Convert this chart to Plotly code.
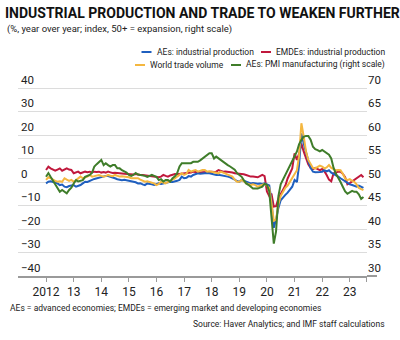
import pandas as pd
import plotly.graph_objects as go

months = pd.date_range("2012-01-01", periods=139, freq="MS")

ae_ip = [
    -0.6, 0.1, 0.3, 0.1, -0.3, -0.6, -1.3, -1.1, -2.0, -2.2, -1.7, -1.5,
    -1.3, -2.0, -1.8, -1.3, -0.6, 0.1, 0.0, 0.3, 0.9, 1.3, 1.6, 1.6,
    2.0, 2.3, 2.6, 2.5, 2.3, 1.8, 1.6, 1.2, 0.9, 0.8, 1.0, 0.8,
    0.3, 0.1, 0.2, -0.1, -0.6, -0.5, -1.0, -1.3, -0.6, -0.7, -1.0, -1.3,
    -1.0, -0.6, -0.8, -0.6, -0.3, 0.0, 0.1, 0.0, 0.1, 0.5, 0.9, 2.3,
    1.6, 1.8, 2.5, 2.3, 3.0, 3.4, 3.7, 3.5, 3.7, 3.6, 3.8, 3.7,
    3.4, 3.2, 3.0, 3.1, 2.9, 3.0, 2.5, 2.3, 2.0, 1.6, 1.0, 0.4,
    0.1, 0.9, 0.5, 0.1, -0.2, -0.6, -0.4, -0.6, -0.7, -0.6, -0.8, -0.6,
    -1.0, -1.5, -8.0, -19.5, -16.0, -11.0, -7.8, -6.5, -5.5, -4.5, -3.0, -2.0,
    0.9, 0.0, 7.0, 20.7, 16.5, 12.0, 9.0, 6.0, 4.4, 4.2, 4.4, 4.3,
    4.4, 5.0, 4.5, 5.0, 4.0, 3.5, 3.0, 2.3, 1.6, 1.0, 0.1, -0.5,
    -1.0, -1.3, -1.5, -2.0, -1.5, -2.0, -2.5,
]

emde_ip = [
    5.1, 6.5, 5.8, 5.2, 4.8, 5.3, 5.8, 4.8, 5.2, 5.8, 5.3, 5.1,
    3.7, 4.0, 4.4, 3.7, 3.9, 4.4, 4.2, 4.4, 4.1, 4.4, 4.3, 4.4,
    4.0, 4.2, 4.0, 4.4, 4.1, 3.8, 3.9, 3.7, 3.8, 3.6, 3.5, 3.4,
    3.4, 3.3, 3.2, 3.4, 3.1, 3.0, 3.0, 2.9, 2.7, 2.6, 2.4, 2.3,
    2.2, 2.0, 2.3, 3.0, 2.6, 2.3, 2.8, 3.2, 3.4, 3.3, 3.4, 3.5,
    3.7, 3.6, 3.7, 4.0, 4.4, 4.2, 4.1, 4.0, 4.2, 4.3, 4.4, 4.4,
    4.4, 4.3, 4.4, 5.1, 4.7, 4.4, 4.5, 4.4, 4.3, 4.0, 3.7, 3.6,
    3.7, 3.7, 3.3, 3.0, 2.5, 2.3, 2.3, 2.3, 2.0, 2.5, 3.0, 2.5,
    -4.0, -6.0, -5.0, -10.5, -10.3, -7.0, -5.0, -3.0, -1.5, 1.5, 3.7, 5.8,
    12.2, 9.4, 12.0, 16.4, 13.0, 10.0, 7.5, 6.0, 5.5, 6.0, 5.5, 5.0,
    5.5, 4.5, 3.0, 1.0, 0.3, 3.7, 4.0, 4.4, 4.4, 3.5, 2.0, -1.0,
    -0.5, 0.3, 1.0, 1.8, 2.5, 3.0, 2.0,
]

world_trade = [
    0.9, 2.0, 1.6, 0.9, 0.5, 0.1, 0.3, 0.1, 1.6, 1.0, 0.5, 0.9,
    0.1, 0.8, 1.6, 2.3, 1.6, 1.8, 2.3, 3.0, 2.3, 2.5, 2.8, 3.0,
    2.6, 2.3, 2.5, 3.0, 2.7, 2.5, 3.0, 2.6, 2.3, 2.4, 2.3, 2.3,
    2.0, 1.6, 1.6, 1.8, 1.6, 1.0, 0.5, 0.1, 0.3, 0.1, -0.3, -0.6,
    -1.3, -0.8, 0.1, -0.3, -0.6, 0.0, 0.4, 0.85, 1.5, 2.3, 3.0, 3.7,
    3.0, 3.5, 5.1, 4.4, 4.8, 5.1, 4.4, 4.8, 5.1, 5.1, 4.4, 4.6,
    4.4, 4.4, 4.0, 3.7, 4.4, 4.0, 3.5, 3.0, 2.6, 2.3, 1.0, 0.1,
    0.1, 0.85, 0.3, -0.6, -0.8, -1.3, -1.0, -1.3, -2.0, -1.5, -1.3, -0.8,
    -1.5, -2.5, -9.0, -16.5, -16.0, -9.5, -6.0, -4.0, -2.5, -1.5, 0.0, 1.5,
    3.0, 5.0, 11.0, 25.0, 19.5, 13.0, 9.4, 7.5, 6.0, 5.8, 6.5, 7.0,
    6.5, 5.8, 6.2, 7.2, 6.0, 5.5, 5.0, 5.1, 5.0, 3.5, 1.5, 0.8,
    1.2, 0.5, 0.1, -1.0, -2.5, -3.0, -3.5,
]

ae_pmi = [
    51.1, 51.9, 51.1, 50.3, 49.7, 48.6, 47.9, 48.3, 47.9, 47.6, 48.3, 48.8,
    49.7, 50.4, 50.1, 50.3, 50.4, 51.1, 51.3, 51.5, 52.0, 53.3, 53.8, 54.3,
    54.7, 53.6, 54.0, 53.6, 53.3, 53.6, 53.6, 52.9, 52.9, 52.5, 52.2, 52.0,
    51.5, 51.3, 51.5, 51.9, 51.6, 51.5, 51.5, 51.3, 51.1, 51.3, 51.5, 51.3,
    51.1, 50.4, 50.6, 50.1, 50.4, 50.4, 50.1, 50.8, 51.2, 51.9, 53.3, 54.0,
    54.0, 54.1, 54.1, 54.0, 54.3, 54.3, 54.3, 54.6, 55.0, 55.4, 55.7, 56.1,
    56.1, 55.0, 55.4, 55.0, 54.7, 54.3, 54.0, 53.6, 53.3, 52.9, 52.6, 51.9,
    51.5, 51.1, 50.4, 49.7, 49.4, 49.0, 48.6, 48.6, 48.6, 48.8, 49.0, 49.6,
    49.4, 48.0, 42.0, 36.9, 39.5, 47.0, 49.5, 50.5, 51.5, 52.5, 53.5, 54.5,
    55.5, 56.5, 58.0, 59.0, 59.6, 59.8, 59.8, 59.0, 57.5, 57.0, 56.8, 56.5,
    56.8, 56.5, 56.2, 55.8, 55.0, 53.0, 51.8, 51.0, 50.0, 49.0, 48.0, 47.5,
    47.8, 48.1, 47.9, 47.9, 47.4, 46.4, 46.8,
]

year_ticks = ["2012-01-01", "2013-01-01", "2014-01-01", "2015-01-01", "2016-01-01",
              "2017-01-01", "2018-01-01", "2019-01-01", "2020-01-01", "2021-01-01",
              "2022-01-01", "2023-01-01", "2023-08-16"]
year_labels = ["2012", "13", "14", "15", "16", "17", "18", "19", "20", "21", "22", "23", ""]

FONT = "Roboto, Liberation Sans, sans-serif"
BLUE = "#1f5fbf"
RED = "#c0183c"
YELLOW = "#f4b740"
GREEN = "#3f7d2a"

# plot area: x 18..367 px, y 72..276 px (gridline 40 at 88)
L, R, T, B = 18, 367, 72, 276
PW, PH = R - L, B - T
ytop = 40 + (88 - T) / 2.35


def px(x):
    return (x - L) / PW


def py(y):
    return (B - y) / PH


series = [
    # name, values, color, axis
    ("EMDEs: industrial production", emde_ip, RED, "y"),
    ("AEs: industrial production", ae_ip, BLUE, "y"),
    ("World trade volume", world_trade, YELLOW, "y"),
    ("AEs: PMI manufacturing (right scale)", ae_pmi, GREEN, "y2"),
]

fig = go.Figure()
for name, vals, color, ax in series:
    fig.add_trace(go.Scatter(x=months, y=vals, name=name, mode="lines",
                             line=dict(color=color, width=2), yaxis=ax, showlegend=False))

# legend keys (manual, two right-aligned rows); estimated text widths at 8.5px
LEG_SIZE = 8.5
legend_rows = [
    (52, [("AEs: industrial production", BLUE, 98.5),
          ("EMDEs: industrial production", RED, 112.0)]),
    (65, [("World trade volume", YELLOW, 75.0),
          ("AEs: PMI manufacturing (right scale)", GREEN, 142.0)]),
]
shapes = [dict(type="line", xref="paper", yref="paper", x0=1, x1=px(377), y0=0, y1=0,
               line=dict(color="#9a9a9a", width=2))]
annotations = []
for ypix, items in legend_rows:
    right = 386
    for label, color, w in reversed(items):
        tleft = right - w
        annotations.append(dict(text=label, xref="paper", yref="paper", x=px(tleft), y=py(ypix),
                                xanchor="left", yanchor="middle", showarrow=False,
                                font=dict(size=LEG_SIZE, color="#222")))
        shapes.append(dict(type="line", xref="paper", yref="paper",
                           x0=px(tleft - 13), x1=px(tleft - 3), y0=py(ypix), y1=py(ypix),
                           line=dict(color=color, width=2)))
        right = tleft - 21

annotations += [
    dict(text="(%, year over year; index, 50+ = expansion, right scale)",
         xref="paper", yref="paper", x=px(5), y=py(29),
         xanchor="left", yanchor="middle", showarrow=False,
         font=dict(size=9.5, color="#222")),
    dict(text="AEs = advanced economies; EMDEs = emerging market and developing economies",
         xref="paper", yref="paper", x=px(8), y=py(308),
         xanchor="left", yanchor="middle", showarrow=False,
         font=dict(size=8.5, color="#222")),
    dict(text="Source: Haver Analytics; and IMF staff calculations",
         xref="paper", yref="paper", x=px(387), y=py(324),
         xanchor="right", yanchor="middle", showarrow=False,
         font=dict(size=8.5, color="#222")),
]

fig.update_layout(
    width=400, height=340,
    margin=dict(l=L, r=400 - R, t=T, b=340 - B),
    paper_bgcolor="white", plot_bgcolor="white",
    font=dict(family=FONT, color="#222", size=11),
    showlegend=False,
    title=dict(text="<b>INDUSTRIAL PRODUCTION AND TRADE TO WEAKEN FURTHER</b>",
               xref="container", yref="container", x=5 / 400, xanchor="left",
               y=1 - 13 / 340, yanchor="middle",
               font=dict(family=FONT, size=14, color="#111")),
    xaxis=dict(type="date", range=["2010-12-26", "2023-08-17"],
               tickmode="array", tickvals=year_ticks, ticktext=year_labels,
               showgrid=False, showline=True, linecolor="#9a9a9a", linewidth=2,
               ticks="outside", ticklen=4, tickcolor="#9a9a9a", tickwidth=1,
               tickfont=dict(size=12, color="#222"), zeroline=False),
    yaxis=dict(range=[-40, ytop], tickvals=[-40, -30, -20, -10, 0, 10, 20, 30, 40],
               showgrid=True, gridcolor="#dcdcdc", gridwidth=1,
               zeroline=False, ticks="", ticklabelposition="inside top",
               tickfont=dict(size=11.5, color="#222"), showline=False),
    yaxis2=dict(range=[30, 50 + ytop / 2], tickvals=[30, 35, 40, 45, 50, 55, 60, 65, 70],
                overlaying="y", side="right", showgrid=False,
                zeroline=False, ticks="", ticklabelposition="outside top",
                tickfont=dict(size=11.5, color="#222"), showline=False),
    shapes=shapes,
    annotations=annotations,
)

fig.write_html("out.html")
